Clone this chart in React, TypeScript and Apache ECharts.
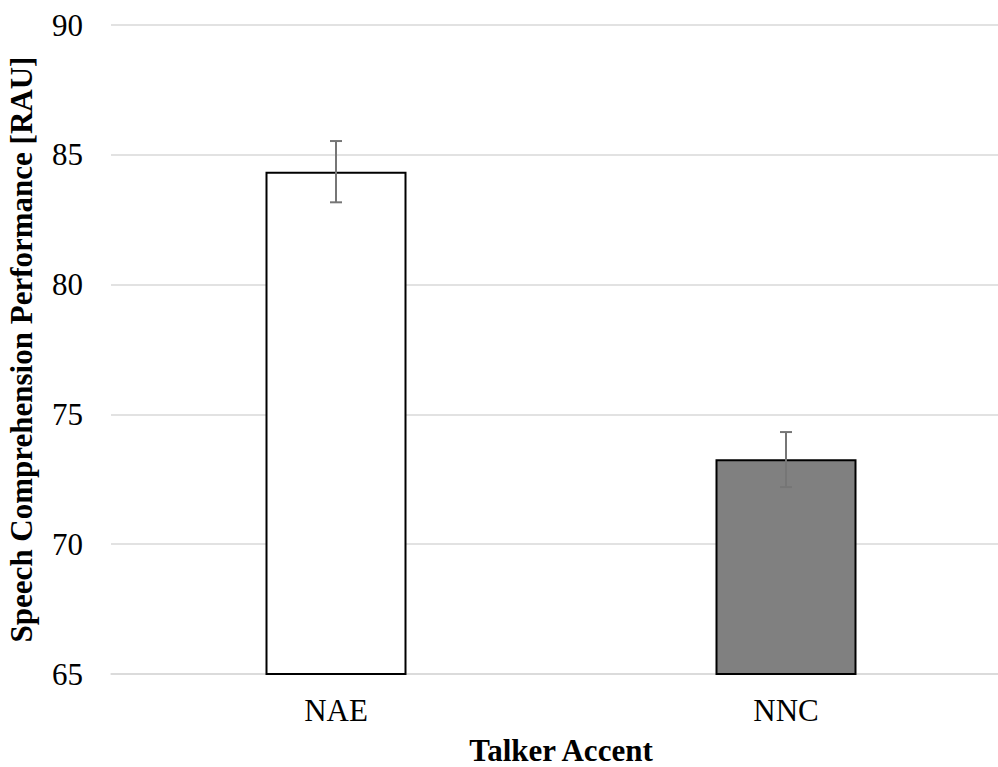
import React, { useEffect, useRef } from "react";
import * as echarts from "echarts";

const categories = ["NAE", "NNC"];
const means = [84.35, 73.27];
const errLow = [83.17, 72.2];
const errHigh = [85.53, 74.32];
const barColors = ["#ffffff", "#808080"];
const yTicks = { min: 65, max: 90, interval: 5 };

export default function App() {
  const ref = useRef<HTMLDivElement>(null);
  useEffect(() => {
    if (!ref.current) return;
    const chart = echarts.init(ref.current, null, { renderer: "svg" });
    const font = "'Liberation Serif', 'Times New Roman', serif";
    chart.setOption({
      animation: false,
      backgroundColor: "#ffffff",
      grid: {
        left: 111,
        top: 25,
        width: 900,
        height: 649,
        containLabel: false,
        outerBoundsMode: "none",
      },
      xAxis: {
        type: "category",
        data: categories,
        name: "Talker Accent",
        nameLocation: "middle",
        nameGap: 61,
        nameTextStyle: {
          fontFamily: font,
          fontSize: 31,
          lineHeight: 31,
          fontWeight: "bold",
          color: "#000",
        },
        axisLine: { show: true, lineStyle: { color: "#d9d9d9", width: 1.5 } },
        axisTick: { show: false },
        axisLabel: { fontFamily: font, fontSize: 31, color: "#000", margin: 21 },
      },
      yAxis: {
        type: "value",
        min: yTicks.min,
        max: yTicks.max,
        interval: yTicks.interval,
        name: "Speech Comprehension Performance [RAU]",
        nameLocation: "middle",
        nameGap: 74,
        nameTextStyle: { fontFamily: font, fontSize: 31, fontWeight: "bold", color: "#000" },
        axisLine: { show: false },
        axisTick: { show: false },
        axisLabel: { fontFamily: font, fontSize: 31, color: "#000", margin: 28 },
        splitLine: { lineStyle: { color: "#d9d9d9", width: 1.5 } },
      },
      series: [
        {
          type: "bar",
          barWidth: 141,
          data: means.map((v, i) => ({
            value: v,
            itemStyle: { color: barColors[i], borderColor: "#000", borderWidth: 2 },
          })),
        },
        {
          type: "custom",
          data: categories.map((_, i) => [i, errLow[i], errHigh[i]]),
          z: 10,
          renderItem: (params: any, api: any) => {
            const x = api.value(0);
            const lo = api.coord([x, api.value(1)]);
            const hi = api.coord([x, api.value(2)]);
            const hw = 6;
            const style = { stroke: "#767676", lineWidth: 2 };
            return {
              type: "group",
              children: [
                { type: "line", shape: { x1: hi[0], y1: hi[1], x2: lo[0], y2: lo[1] }, style },
                { type: "line", shape: { x1: hi[0] - hw, y1: hi[1], x2: hi[0] + hw, y2: hi[1] }, style },
                { type: "line", shape: { x1: lo[0] - hw, y1: lo[1], x2: lo[0] + hw, y2: lo[1] }, style },
              ],
            };
          },
        },
      ],
    });
    return () => chart.dispose();
  }, []);
  return (
    <div
      ref={ref}
      style={{ position: "absolute", left: 0, top: 0, width: 998, height: 767 }}
    />
  );
}
